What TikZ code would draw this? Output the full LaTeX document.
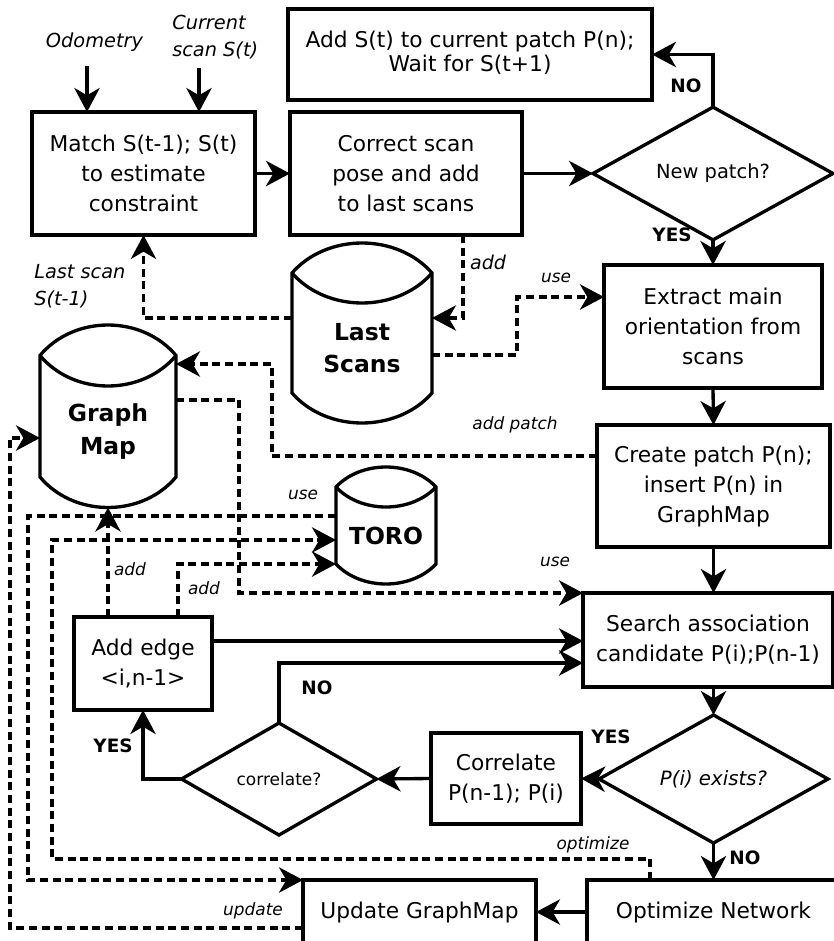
\documentclass[tikz,border=0pt]{standalone}
\usepackage{fontspec}
\setmainfont{DejaVu Sans}
\usetikzlibrary{arrows.meta,shapes.geometric,calc}

% cylinder outline around a store node: #1 node, #2 cap height, #3 curve control offset
\newcommand\drum[3]{%
  \draw[lw, line join=miter]
    ($(#1.north west)+(0,-#2)$)
    .. controls ($(#1.north west)+(#3,{-2.333*#2})$) and ($(#1.north east)+({-#3},{-2.333*#2})$) .. ($(#1.north east)+(0,-#2)$)
    -- (#1.south east)
    .. controls ($(#1.south east)+({-#3},{1.333*#2})$) and ($(#1.south west)+(#3,{1.333*#2})$) .. (#1.south west)
    -- cycle;
  \draw[lw]
    ($(#1.north west)+(0,-#2)$)
    .. controls ($(#1.north west)+(#3,{0.333*#2})$) and ($(#1.north east)+({-#3},{0.333*#2})$) .. ($(#1.north east)+(0,-#2)$);
}

\tikzset{
  lw/.style={line width=2.5pt},
  boxsize/.style 2 args={minimum width=#1*0.75pt, minimum height=#2*0.75pt},
  procbox/.style={draw, lw, fill=white, rectangle, inner sep=0pt, outer sep=0pt, align=center,
    font=\fontsize{16.3}{22.5}\selectfont},
  decision/.style={draw, lw, fill=white, diamond, inner sep=0pt, outer sep=0pt, align=center},
  store/.style={inner sep=0pt, outer sep=0pt, align=center, font=\bfseries\fontsize{17.6}{24.5}\selectfont},
  flow/.style={lw, -{Stealth[length=18pt,width=19pt,inset=5.5pt]}},
  dflow/.style={flow, dash pattern=on 6pt off 3.5pt},
  answer/.style={inner sep=0pt, font=\bfseries\fontsize{13.8}{16}\selectfont},
  note/.style={inner sep=0pt, font=\itshape\fontsize{12.7}{15}\selectfont},
  inlabel/.style={inner sep=0pt, font=\itshape\fontsize{14.5}{20}\selectfont},
}

\begin{document}
\begin{tikzpicture}[x=0.75pt, y=-0.75pt]
\fill[white] (0,0) rectangle (834,941);
\path[use as bounding box, clip] (0,0) rectangle (834,941);

% process boxes
\node[procbox, boxsize={364}{91}, font=\fontsize{16.3}{17.6}\selectfont, text depth=5pt] (wait) at (470,54.5)
  {Add S(t) to current patch P(n);\\Wait for S(t+1)};
\node[procbox, boxsize={223}{123}] (match) at (143.5,173.5) {Match S(t-1); S(t)\\to estimate\\constraint};
\node[procbox, boxsize={232}{123}] (correct) at (406,173.5) {Correct scan\\pose and add\\to last scans};
\node[decision, boxsize={240}{123}, font=\fontsize{14.6}{17}\selectfont] (newpatch) at (713,173.5) {New patch?};
\node[procbox, boxsize={218}{123}] (extract) at (713,326.5) {Extract main\\orientation from\\scans};
\node[procbox, boxsize={233}{122}] (create) at (713.5,486) {Create patch P(n);\\insert P(n) in\\GraphMap};
\node[procbox, boxsize={250}{94}] (search) at (708,640) {Search association\\candidate P(i);P(n-1)};
\node[decision, boxsize={229}{128}, font=\itshape\fontsize{14.8}{17}\selectfont] (exists) at (713.5,779) {P(i) exists?};
\node[procbox, boxsize={150}{91}] (corr) at (506,778.5) {Correlate\\P(n-1); P(i)};
\node[decision, boxsize={195}{112}, font=\fontsize{12.75}{15}\selectfont] (corrq) at (279,779) {correlate?};
\node[procbox, boxsize={138}{93}] (addedge) at (143,663.5) {Add edge\\<i,n-1>};
\node[procbox, boxsize={233}{64}] (update) at (419.5,912) {Update GraphMap};
\node[procbox, boxsize={253}{64}] (optimize) at (713.5,912) {Optimize Network};

% data stores
\node[store, boxsize={140}{90}] (scans) at (362,348) {Last\\Scans};
\node[store, boxsize={136}{91}] (graph) at (108,431.5) {Graph\\Map};
\node[store, boxsize={100}{57}] (toro) at (386,535.5) {TORO};
\drum{scans}{30}{35}
\drum{graph}{30.5}{34}
\drum{toro}{20}{25}

% inputs
\node[inlabel, anchor=base] (odo) at (94.5,48) {Odometry};
\node[inlabel, anchor=base west] (cur1) at (172,30) {Current};
\node[inlabel, anchor=base west] (cur2) at (172,57) {scan S(t)};
\node[inlabel, anchor=base west] (last1) at (34,278) {Last scan};
\node[inlabel, anchor=base west] (last2) at (34,305) {S(t-1)};
\coordinate (odoin) at (87,66);
\coordinate (scanin) at (199,68);

% main flow
\draw[flow] (odoin) -- (odoin |- match.north);
\draw[flow] (scanin) -- (scanin |- match.north);
\draw[flow] (match.east) -- (correct.west);
\draw[flow] (correct.east) -- (newpatch.west);
\draw[flow] (newpatch.north) |- (wait.east);
\draw[flow] (newpatch.south) -- (extract.north);
\draw[flow] (extract.south) -- (create.north);
\draw[flow] (create.south) -- (create.south |- search.north);
\draw[flow] (exists.north |- search.south) -- (exists.north);
\draw[flow] (exists.west) -- (corr.east);
\draw[flow] (corr.west) -- (corrq.east);
\draw[flow] (corrq.west) -| (addedge.south);
\draw[flow] (corrq.north) |- (search.west |- 0,663);
\draw[flow] (addedge.east |- 0,641) -- (search.west |- 0,641);
\draw[flow] (exists.south) -- (optimize.north);
\draw[flow] (optimize.west) -- (update.east);

% data links
\draw[dflow] (correct.south -| 463,0) |- (scans.east |- 0,318);
\draw[dflow] (scans.west |- 0,318) -| (match.south);
\draw[dflow] (scans.east |- 0,355) -| (517,297) -- (extract.west |- 0,297);
\draw[dflow] (create.west |- 0,456) -| (272,364) -- (graph.east |- 0,364);
\draw[dflow] (graph.east |- 0,400) -| (239,593) -- (search.north west);
\draw[dflow] (toro.west |- 0,516) -| (28,880) -- (update.north west);
\draw[dflow] (optimize.north -| 650,0) |- (52,859) |- (toro.west |- 0,540);
\draw[dflow] (addedge.north -| graph.south) -- ($(graph.south)+(0,30.5)$);
\draw[dflow] (addedge.north -| 178,0) |- (toro.south west);
\draw[dflow] (update.west |- 0,928) -| (10,438) -- (graph.west |- 0,438);

% link labels
\node[note, font=\itshape\fontsize{14.3}{16}\selectfont] (l-add1) at (488,262) {add};
\node[note] (l-use1) at (556,278) {use};
\node[note] (l-patch) at (515,425) {add patch};
\node[note] (l-use2) at (555,562) {use};
\node[note] (l-use3) at (303,495) {use};
\node[note] (l-add2) at (130,569) {add};
\node[note] (l-add3) at (204,588) {add};
\node[note] (l-opt) at (593,845) {optimize};
\node[note] (l-upd) at (253,911) {update};

% decision answers
\node[answer] (a1) at (686,86) {NO};
\node[answer] (a2) at (672,235) {YES};
\node[answer] (a3) at (611,737) {YES};
\node[answer] (a4) at (745,858) {NO};
\node[answer] (a5) at (317,688) {NO};
\node[answer] (a6) at (113,746) {YES};
\end{tikzpicture}
\end{document}
